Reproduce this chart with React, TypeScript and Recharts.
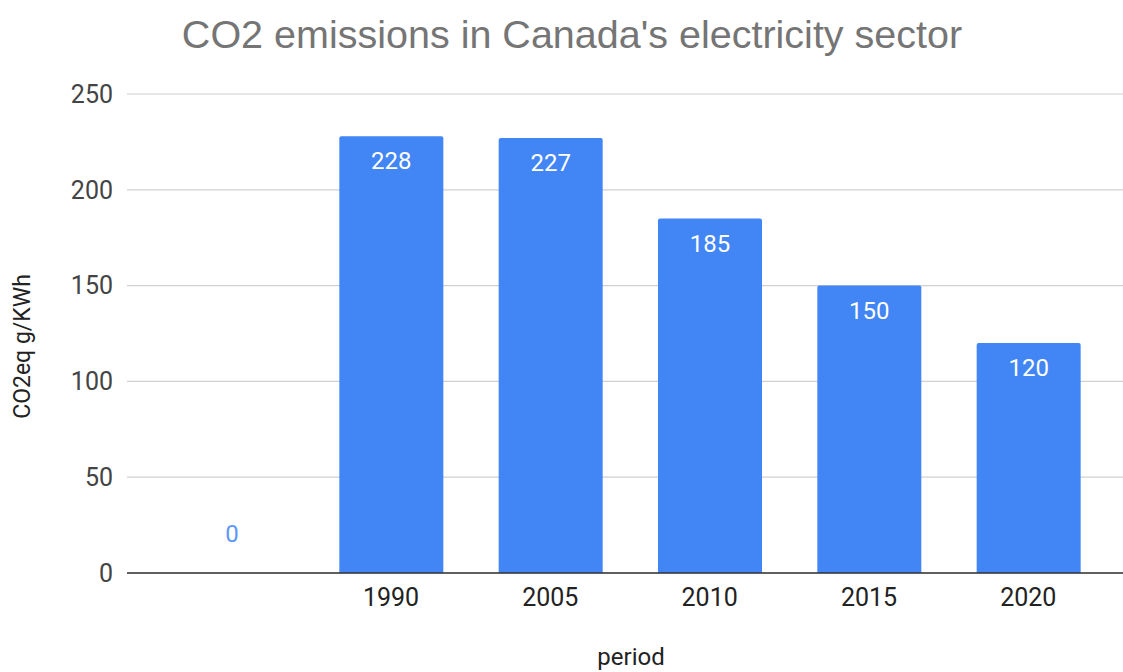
import React from 'react';
import { BarChart, Bar, XAxis, YAxis, CartesianGrid, LabelList, Cell } from 'recharts';

// Emissions intensity by period; the first slot is an empty placeholder.
const PERIODS = ['', '1990', '2005', '2010', '2015', '2020'];
const EMISSIONS = [0, 228, 227, 185, 150, 120];
const Y_TICKS = [0, 50, 100, 150, 200, 250];

const BLUE = '#4285f4';
const TICK_FONT = 'Roboto, Arial, sans-serif';

const rows = PERIODS.map((period, i) => ({ period, value: EMISSIONS[i] }));

function ValueLabel(props: any) {
  const { x, y, width, height, value } = props;
  const cx = Number(x) + Number(width) / 2;
  const top = Number(y);
  if (Number(value) === 0) {
    // zero bar: label sits above the baseline in the series colour
    const base = top + Number(height);
    return (
      <text x={cx} y={base - 31} textAnchor="middle" fontSize={24} fontFamily={TICK_FONT} fill="#5d97f5">
        {value}
      </text>
    );
  }
  return (
    <text x={cx} y={top + 33} textAnchor="middle" fontSize={24} fontFamily={TICK_FONT} fill="#ffffff">
      {value}
    </text>
  );
}

function YTitle({ viewBox }: any) {
  const x = 30;
  const y = viewBox.y + viewBox.height / 2 + 13;
  return (
    <text
      x={x}
      y={y}
      transform={`rotate(-90 ${x} ${y})`}
      textAnchor="middle"
      fontSize={23}
      fontFamily={TICK_FONT}
      fill="#222"
    >
      CO2eq g/KWh
    </text>
  );
}

export default function App() {
  return (
    <div style={{ position: 'absolute', left: 0, top: 0, width: 1123, height: 672, background: '#fff' }}>
      <BarChart
        width={1123}
        height={672}
        data={rows}
        margin={{ top: 94, right: 0, bottom: 0, left: 0 }}
      >
        <text
          x={572}
          y={48}
          textAnchor="middle"
          fontSize={39.5}
          fontFamily="'Liberation Sans', Arial, sans-serif"
          fill="#757575"
        >
          CO2 emissions in Canada's electricity sector
        </text>
        <CartesianGrid vertical={false} stroke="#d0d0d0" strokeWidth={1.2} />
        <XAxis
          dataKey="period"
          height={99}
          padding={{ left: 25, right: 15 }}
          tickLine={false}
          tickSize={0}
          tickMargin={15}
          axisLine={{ stroke: '#333', strokeWidth: 1.5 }}
          tick={{ fontSize: 25, fill: '#222', fontFamily: TICK_FONT }}
          label={{
            value: 'period',
            position: 'insideBottom',
            offset: 7,
            dx: 6,
            fontSize: 24,
            fill: '#222',
            fontFamily: TICK_FONT,
          }}
        />
        <YAxis
          width={127}
          domain={[0, 250]}
          ticks={Y_TICKS}
          axisLine={false}
          tickLine={false}
          tickSize={0}
          tickMargin={14}
          tick={{ fontSize: 25, fill: '#444', fontFamily: TICK_FONT }}
          label={<YTitle />}
        />
        <Bar
          dataKey="value"
          fill={BLUE}
          barSize={104}
          radius={[2, 2, 0, 0]}
          minPointSize={(v: number) => (v === 0 ? 1 : 0)}
          isAnimationActive={false}
        >
          {rows.map((r, i) => (
            <Cell key={i} fill={r.value === 0 ? 'transparent' : BLUE} />
          ))}
          <LabelList dataKey="value" content={<ValueLabel />} />
        </Bar>
      </BarChart>
    </div>
  );
}
